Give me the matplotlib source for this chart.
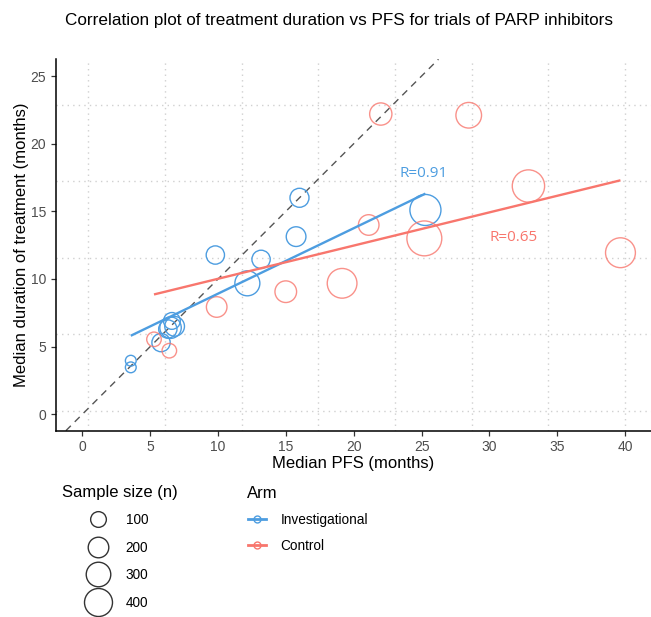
import matplotlib.pyplot as plt
import numpy as np
from matplotlib.lines import Line2D

plt.rcParams["font.family"] = ["Liberation Sans", "DejaVu Sans"]

# investigational arm: median PFS, median treatment duration, sample size
inv_pfs = [16.0, 15.75, 9.8, 13.17, 12.16, 6.6, 6.5, 6.8, 6.3, 5.8, 3.57, 3.57, 25.28]
inv_dur = [16.0, 13.13, 11.77, 11.45, 9.68, 6.9, 6.4, 6.5, 6.3, 5.3, 3.96, 3.47, 15.1]
inv_n = [165, 180, 150, 150, 312, 120, 220, 180, 150, 150, 25, 25, 500]

# control arm
ctl_pfs = [9.9, 14.99, 19.14, 5.28, 6.41, 21.99, 28.47, 32.87, 21.1, 25.2, 39.65]
ctl_dur = [7.93, 9.06, 9.68, 5.54, 4.7, 22.19, 22.1, 16.87, 13.99, 13.0, 11.94]
ctl_n = [200, 225, 455, 80, 80, 240, 330, 545, 200, 640, 460]

arms = ["Investigational", "Control"]
r_text = ["R=0.91", "R=0.65"]
r_pos = [(25.16, 17.8), (31.8, 13.05)]

size_breaks = [100, 200, 300, 400]
x_ticks = list(range(0, 45, 5))
y_ticks = list(range(0, 30, 5))
grid_x = [0.44, 6.09, 11.74, 17.39, 23.04, 28.69, 34.34, 39.99]
grid_y = [0.24, 5.9, 11.56, 17.22, 22.88]

BLUE = "#4D9DE0"
RED = "#F8766D"


def marker_area(n):
    # outer diameter in px grows with area ~ n, convert to pt^2 at 100 dpi
    d_px = np.sqrt(92 + 1.87 * np.asarray(n, dtype=float)) - 1
    return (d_px * 0.72) ** 2


fig = plt.figure(figsize=(6.51, 6.17), dpi=100)
ax = fig.add_axes([0.0856, 0.302, 0.9144, 0.602])

for gx in grid_x:
    ax.axvline(gx, color="#d0d0d0", lw=1, ls=(0, (1, 3)), zorder=0)
for gy in grid_y:
    ax.axhline(gy, color="#d0d0d0", lw=1, ls=(0, (1, 3)), zorder=0)

ax.axline((0, 0), slope=1, color="#555555", lw=1, ls=(0, (5, 4)), zorder=1)

series = [(inv_pfs, inv_dur, inv_n, BLUE, 1.0), (ctl_pfs, ctl_dur, ctl_n, RED, 0.8)]
for (x, y, n, col, alpha), txt, pos in zip(series, r_text, r_pos):
    x, y, n = np.asarray(x), np.asarray(y), np.asarray(n)
    ax.scatter(x, y, s=marker_area(n), facecolors="none", edgecolors=col,
               linewidths=1, alpha=alpha, zorder=2)
    # weighted least squares by sample size
    slope, icpt = np.polyfit(x, y, 1, w=np.sqrt(n))
    xs = np.array([x.min(), x.max()])
    ax.plot(xs, icpt + slope * xs, color=col, lw=1.7, zorder=3, solid_capstyle="butt")
    ax.text(pos[0], pos[1], txt, color=col, fontsize=11, family="Open Sans",
            ha="center", va="center")

ax.set_xlim(-1.96, 41.9)
ax.set_ylim(-1.21, 26.24)
ax.set_xticks(x_ticks)
ax.set_yticks(y_ticks)
ax.tick_params(colors="#333333", labelcolor="#4d4d4d", labelsize=10, length=3.5, width=0.9)
for side in ["top", "right"]:
    ax.spines[side].set_visible(False)
for side in ["left", "bottom"]:
    ax.spines[side].set_linewidth(1.1)
    ax.spines[side].set_color("black")

ax.set_xlabel("Median PFS (months)", fontsize=12, labelpad=1.5)
ax.set_ylabel("Median duration of treatment (months)", fontsize=12, labelpad=1)

fig.text(0.5215, 1 - 20 / 617, "Correlation plot of treatment duration vs PFS for trials of PARP inhibitors",
         ha="center", va="center", fontsize=12.3)

# size legend
fig.text(62 / 651, 1 - 493 / 617, "Sample size (n)", ha="left", va="center", fontsize=12)
size_handles = [Line2D([], [], ls="", marker="o", markersize=np.sqrt(marker_area(b)),
                       markerfacecolor="none", markeredgecolor="#333333", markeredgewidth=1)
                for b in size_breaks]
fig.legend(size_handles, [str(b) for b in size_breaks], loc="upper left",
           bbox_to_anchor=(89 / 651, 1 - 513 / 617), frameon=False, borderpad=0,
           borderaxespad=0, handlelength=1.3, handletextpad=1.4, labelspacing=1.0,
           fontsize=9.8)

# arm legend
fig.text(247 / 651, 1 - 493 / 617, "Arm", ha="left", va="center", fontsize=12)
arm_handles = [Line2D([], [], color=c, lw=2, marker="o", markersize=5,
                      markerfacecolor="none", markeredgewidth=1) for c in [BLUE, RED]]
fig.legend(arm_handles, arms, loc="upper left", bbox_to_anchor=(248 / 651, 1 - 513 / 617),
           frameon=False, borderpad=0, borderaxespad=0, handlelength=1.3,
           handletextpad=1.1, labelspacing=0.9, fontsize=9.8)

fig.savefig("out.png", dpi=100)
